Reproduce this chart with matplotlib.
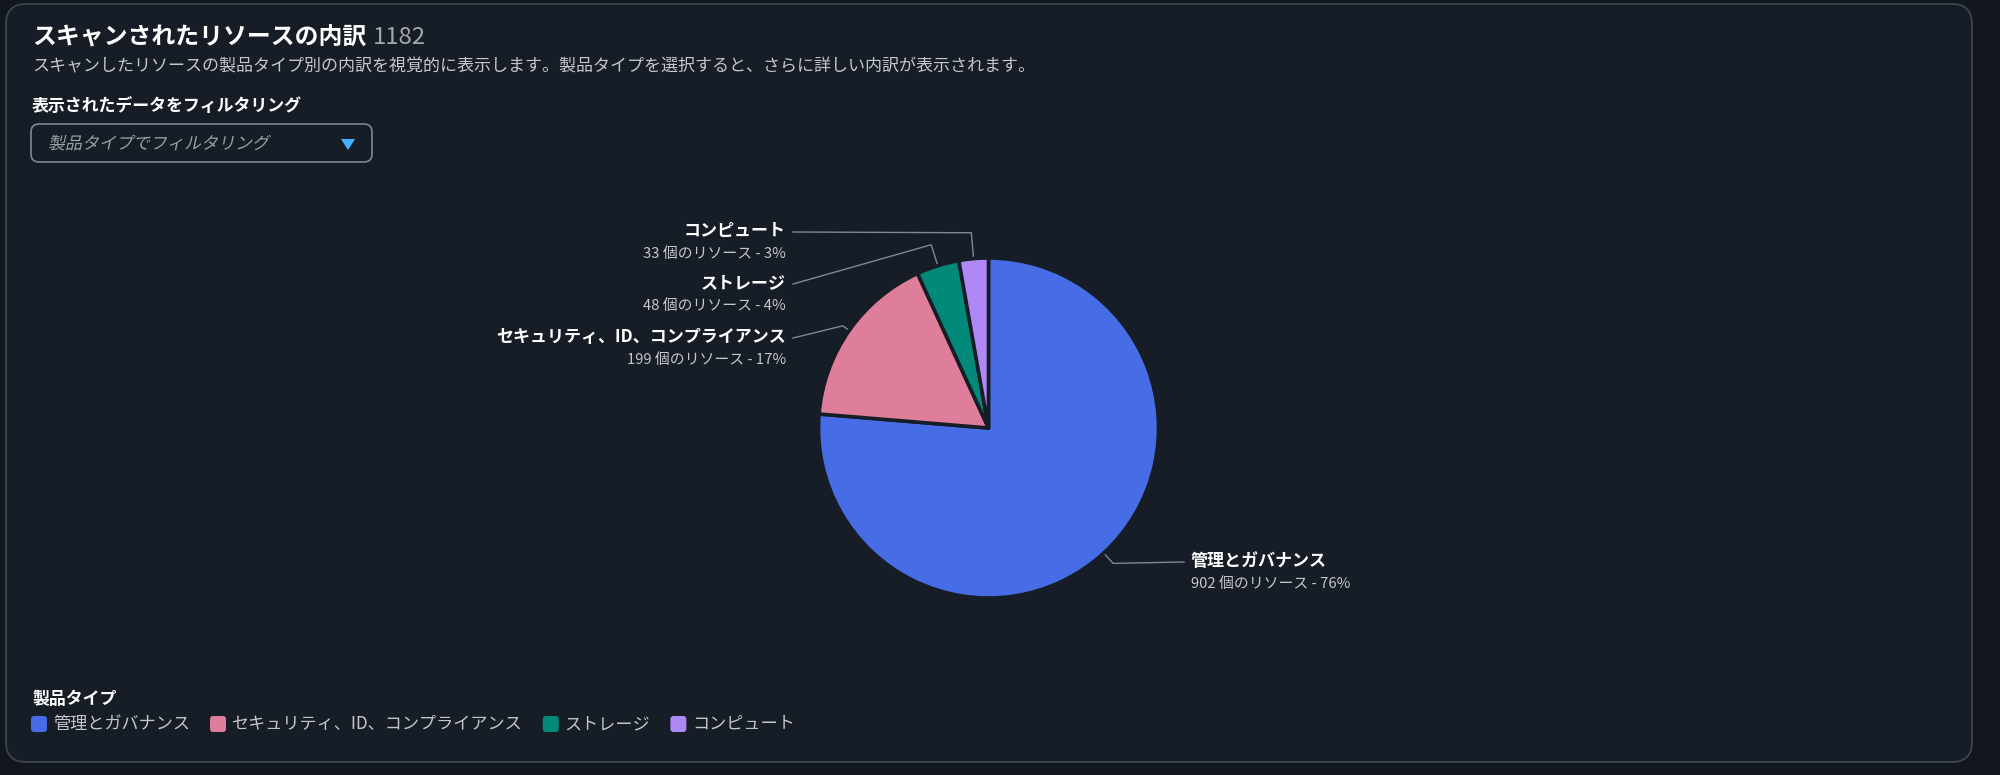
import numpy as np
import matplotlib
matplotlib.use("Agg")
import matplotlib.pyplot as plt
from matplotlib.patches import FancyBboxPatch, Polygon, PathPatch
from matplotlib.textpath import TextPath
from matplotlib.font_manager import FontProperties
from matplotlib.transforms import Affine2D

plt.rcParams['font.family'] = ['Noto Sans CJK JP', 'DejaVu Sans']

# data
categories = ["管理とガバナンス", "セキュリティ、ID、コンプライアンス", "ストレージ", "コンピュート"]
counts = [902, 199, 48, 33]
colors = ["#476de6", "#df7e9b", "#01897a", "#b088f5"]

title = "スキャンされたリソースの内訳"
subtitle = "スキャンしたリソースの製品タイプ別の内訳を視覚的に表示します。製品タイプを選択すると、さらに詳しい内訳が表示されます。"
filter_label = "表示されたデータをフィルタリング"
filter_placeholder = "製品タイプでフィルタリング"
legend_title = "製品タイプ"

# layout (pixels, measured from top-left)
W, H = 2000, 775
BG_OUT = "#12161d"
BG = "#161d26"
TXT = "#ffffff"
TXT2 = "#c6c6cd"
LINE = "#7d8998"

cx, cy, radius = 988.5, 428, 170
# label anchors: (x, y of bold name, side), radial elbow length
label_pos = [(1191, 561, "left"), (786, 337, "right"), (786, 283, "right"), (786, 231, "right")]
elbow_len = [14, 8, 22, 26]


def Y(y):
    return H - y


fig = plt.figure(figsize=(W / 100, H / 100), dpi=100, facecolor=BG_OUT)
ax = fig.add_axes([0, 0, 1, 1])
ax.set_facecolor(BG_OUT)

# pie first (it resets the limits)
total = sum(counts)
wedges, _ = ax.pie(counts, colors=colors, startangle=90, counterclock=False,
                   center=(cx, Y(cy)), radius=radius,
                   wedgeprops=dict(edgecolor=BG, linewidth=2.6, joinstyle="round"))
for w in wedges:
    w.set_zorder(3)
ax.set_xlim(0, W)
ax.set_ylim(0, H)
ax.set_aspect("auto")
ax.axis("off")

# container panel
panel = FancyBboxPatch((6, Y(762)), 1966, 758, boxstyle="round,pad=0,rounding_size=20",
                       facecolor=BG, edgecolor="#3d4551", linewidth=1.3, zorder=0)
ax.add_patch(panel)

fig.canvas.draw()
r = fig.canvas.get_renderer()

# header
t = ax.text(32, Y(38), title, fontsize=17.2, fontweight="bold", color=TXT, va="center", ha="left")
bb = t.get_window_extent(r)
ax.text(bb.x1 + 7, Y(38), str(total), fontsize=17.2, color="#a4a6ad", va="center", ha="left")
ax.text(32, Y(66), subtitle, fontsize=12.25, color=TXT2, va="center", ha="left")
ax.text(32, Y(106), filter_label, fontsize=12.2, fontweight="bold", color=TXT, va="center", ha="left")

# dropdown
dd = FancyBboxPatch((31, Y(162)), 341, 38, boxstyle="round,pad=0,rounding_size=8",
                    facecolor=BG, edgecolor="#7d8998", linewidth=1.2)
ax.add_patch(dd)
tp = TextPath((0, 0), filter_placeholder, size=17,
              prop=FontProperties(family="Noto Sans CJK JP"))
ax.add_patch(PathPatch(tp, facecolor="#9ba0a8", edgecolor="none",
                       transform=Affine2D().skew_deg(12, 0).translate(48, Y(149)) + ax.transData))
ax.add_patch(Polygon([(341, Y(139)), (355, Y(139)), (348, Y(150))], closed=True,
                     facecolor="#42b4ff", edgecolor="none"))

# leader lines and labels
for w, cat, n, (lx, ly, side), el in zip(wedges, categories, counts, label_pos, elbow_len):
    mid = np.deg2rad((w.theta1 + w.theta2) / 2)
    px, py = cx + radius * np.cos(mid), Y(cy) + radius * np.sin(mid)
    ex, ey = cx + (radius + el) * np.cos(mid), Y(cy) + (radius + el) * np.sin(mid)
    if side == "right":
        endx = lx + 7
    else:
        endx = lx - 7
    endy = Y(ly + 1)
    ax.plot([px, ex, endx], [py, ey, endy], color=LINE, linewidth=1.0, solid_joinstyle="miter")
    pct = round(n / total * 100)
    ax.text(lx, Y(ly), cat, fontsize=12.25, fontweight="bold", color=TXT, va="center", ha=side)
    ax.text(lx, Y(ly + 23), f"{n} 個のリソース - {pct}%", fontsize=10.7, color=TXT2,
            va="center", ha=side)

# legend
ax.text(32, Y(699), legend_title, fontsize=12.2, fontweight="bold", color=TXT, va="center", ha="left")
x = 31
for cat, c in zip(categories, colors):
    ax.add_patch(FancyBboxPatch((x, Y(732)), 16, 16, boxstyle="round,pad=0,rounding_size=3",
                                facecolor=c, edgecolor="none"))
    lt = ax.text(x + 22, Y(724), cat, fontsize=12.3, color=TXT2, va="center", ha="left")
    bb = lt.get_window_extent(r)
    x = bb.x1 + 20

fig.savefig("out.png", dpi=100, facecolor=BG_OUT)
